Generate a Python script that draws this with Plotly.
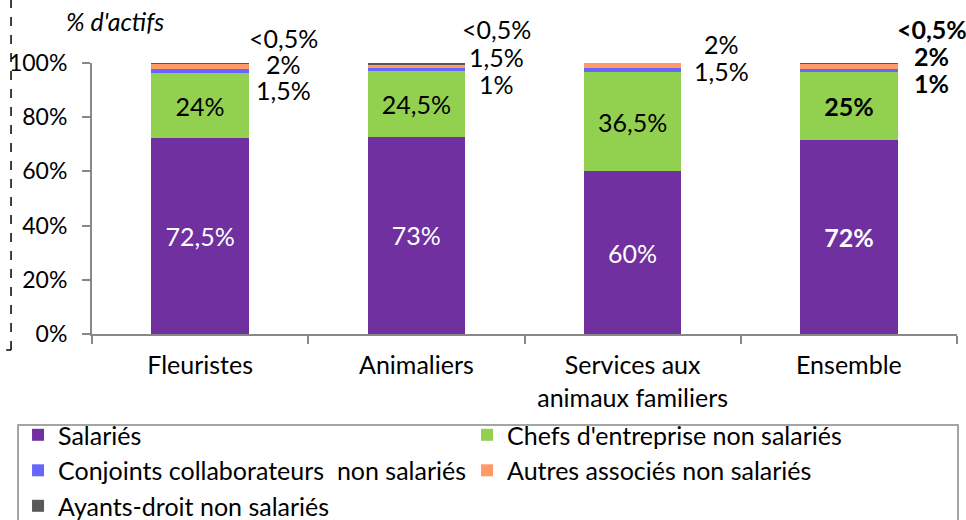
import plotly.graph_objects as go

categories = ["Fleuristes", "Animaliers", "Services aux<br>animaux familiers", "Ensemble"]

salaries = [72.3, 72.7, 60.0, 71.7]
chefs = [24.0, 24.4, 36.5, 25.0]
conjoints = [1.5, 1.0, 1.5, 1.0]
autres = [1.9, 1.5, 2.0, 2.0]
ayants = [0.3, 0.4, 0.0, 0.3]

salaries_labels = ["72,5%", "73%", "60%", "<b>72%</b>"]
chefs_labels = ["24%", "24,5%", "36,5%", "<b>25%</b>"]

# small-share labels written to the right of each bar (top to bottom)
side_labels = [
    ["<0,5%", "2%", "1,5%"],
    ["<0,5%", "1,5%", "1%"],
    ["2%", "1,5%"],
    ["<b><0,5%</b>", "<b>2%</b>", "<b>1%</b>"],
]
# style: vertical pixel offsets of those labels from the 100% line, and horizontal shift
side_offsets = [[25, -1, -27], [34, 6, -21], [19, -8], [34, 7, -20]]
side_xshift = [83, 80, 89, 83]

FONT = "Lato, 'Open Sans', sans-serif"

fig = go.Figure()
series = [
    ("Salariés", salaries, "#7030A0", salaries_labels, "white"),
    ("Chefs d'entreprise non salariés", chefs, "#92D050", chefs_labels, "black"),
    ("Conjoints collaborateurs  non salariés", conjoints, "#6666FF", None, None),
    ("Autres associés non salariés", autres, "#FF9966", None, None),
    ("Ayants-droit non salariés", ayants, "#595959", None, None),
]
for name, vals, color, labels, tcolor in series:
    if labels is not None:
        kw = dict(text=labels, texttemplate="%{text}", textposition="inside",
                  insidetextanchor="middle", constraintext="none",
                  textfont=dict(color=tcolor, size=25, family=FONT))
    else:
        kw = dict(textposition="none")
    fig.add_trace(go.Bar(x=categories, y=vals, name=name, marker=dict(color=color, line=dict(width=0)),
                         hoverinfo="skip", **kw))

for i, cat in enumerate(categories):
    for lab, off in zip(side_labels[i], side_offsets[i]):
        fig.add_annotation(x=cat, y=100, xref="x", yref="y", text=lab, showarrow=False,
                           xshift=side_xshift[i], yshift=off, xanchor="center", yanchor="middle",
                           font=dict(size=25, family=FONT, color="black"))

fig.add_annotation(x=0.027, y=1.155, xref="paper", yref="paper", text="<i>% d'actifs</i>",
                   showarrow=False, xanchor="center", yanchor="middle",
                   font=dict(size=25, family=FONT, color="black"))

# dashed frame edge at left
fig.add_shape(type="line", xref="paper", yref="paper", x0=-0.0936, x1=-0.0936, y0=-0.059, y1=1.25,
              line=dict(color="black", width=1.5, dash="dash"))
fig.add_shape(type="line", xref="paper", yref="paper", x0=-0.12, x1=-0.0936, y0=-0.059, y1=-0.059,
              line=dict(color="black", width=1.5, dash="dash"))
# legend frame
fig.add_shape(type="rect", xref="paper", yref="paper", x0=-0.0855, x1=1.0012, y0=-0.336, y1=-0.75,
              line=dict(color="#888888", width=1.5), fillcolor="rgba(0,0,0,0)")

fig.update_layout(
    width=966, height=520, autosize=False,
    margin=dict(l=92, r=9, t=63, b=186, autoexpand=False),
    barmode="stack", bargap=0.55,
    plot_bgcolor="white", paper_bgcolor="white",
    font=dict(family=FONT, size=20, color="black"),
    showlegend=True,
    legend=dict(orientation="h", x=-0.0855, y=-0.288, xanchor="left", yanchor="top",
                entrywidth=404, entrywidthmode="pixels", traceorder="normal",
                borderwidth=0, bgcolor="rgba(0,0,0,0)", font=dict(size=25, family=FONT)),
    xaxis=dict(range=[-0.5, len(categories) - 0.5], autorange=False,
               showline=True, linecolor="#888888", linewidth=2, ticks="outside", tickson="boundaries",
               ticklen=8, tickcolor="#888888", tickwidth=2, showgrid=False, tickfont=dict(size=25),
               ticklabelstandoff=8),
    yaxis=dict(range=[0, 100], autorange=False, dtick=20, ticksuffix="%", showline=True,
               linecolor="#888888", linewidth=2,
               ticks="outside", ticklen=8, tickcolor="#888888", tickwidth=2, showgrid=False,
               zeroline=False, tickfont=dict(size=23), ticklabelstandoff=10),
)

fig.write_html(
    "out.html",
    config={"displayModeBar": False, "responsive": False},
    post_script=("document.body.style.margin='0';document.body.style.overflow='hidden';"
                 "Plotly.relayout('{plot_id}', {width: 966, height: 520});"),
)
